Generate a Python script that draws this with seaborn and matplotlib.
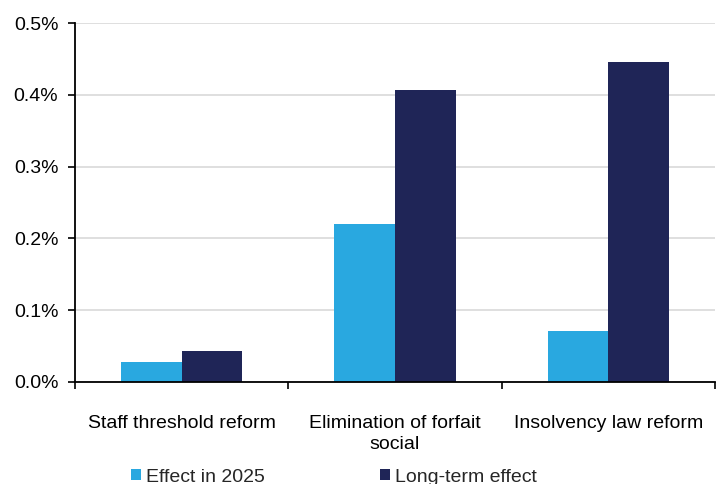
import matplotlib
matplotlib.use("Agg")
import matplotlib.pyplot as plt
import seaborn as sns
import pandas as pd
from matplotlib.ticker import FuncFormatter, FixedLocator
from matplotlib.patches import Patch

# Data
categories = ["Staff threshold reform", "Elimination of forfait\nsocial", "Insolvency law reform"]
effect_2025 = [0.028, 0.220, 0.071]
long_term = [0.043, 0.407, 0.446]
series_names = ["Effect in 2025", "Long-term effect"]
colors = ["#29A8E0", "#1F2557"]

df = pd.DataFrame({
    "category": categories * 2,
    "series": [series_names[0]] * 3 + [series_names[1]] * 3,
    "value": effect_2025 + long_term,
})

sns.set_theme(style="white")
plt.rcParams["font.family"] = ["Liberation Sans", "DejaVu Sans"]

fig = plt.figure(figsize=(7.21, 4.84), dpi=100)
ax = fig.add_axes([75 / 721, (484 - 382) / 484, 640 / 721, (382 - 23) / 484])

sns.barplot(data=df, x="category", y="value", hue="series", palette=colors,
            width=0.57, saturation=1, ax=ax, legend=False, linewidth=0)

ax.set_xlim(-0.5, 2.5)
ax.set_ylim(0, 0.5)
ax.set_yticks([0, 0.1, 0.2, 0.3, 0.4, 0.5])
ax.yaxis.set_major_formatter(FuncFormatter(lambda v, p: f"{v:.1f}%"))
ax.yaxis.grid(True, color="#d9d9d9", linewidth=1.2)
ax.set_axisbelow(True)
ax.set_xlabel("")
ax.set_ylabel("")

# Category labels without ticks; ticks at category boundaries
ax.tick_params(axis="x", which="major", length=0, pad=24, labelsize=14, labelcolor="black")
for lbl in ax.get_xticklabels():
    lbl.set_linespacing(1.25)
ax.xaxis.set_minor_locator(FixedLocator([-0.5, 0.5, 1.5, 2.5]))
ax.tick_params(axis="x", which="minor", bottom=True, length=5, width=1.2, color="black", direction="out")
ax.tick_params(axis="y", which="major", left=True, length=5, width=1.2, color="black",
               direction="out", labelsize=14, labelcolor="black", pad=7)

for side in ["top", "right"]:
    ax.spines[side].set_visible(False)
for side in ["left", "bottom"]:
    ax.spines[side].set_color("black")
    ax.spines[side].set_linewidth(1.3)

handles = [Patch(facecolor=c, edgecolor="none") for c in colors]
fig.legend(handles, series_names, loc="center", bbox_to_anchor=(0.463, 1 - 477 / 484),
           ncol=2, frameon=False, fontsize=14, handlelength=0.55, handleheight=0.55,
           handletextpad=0.25, columnspacing=5.9, borderpad=0)

fig.savefig("out.png", dpi=100)
